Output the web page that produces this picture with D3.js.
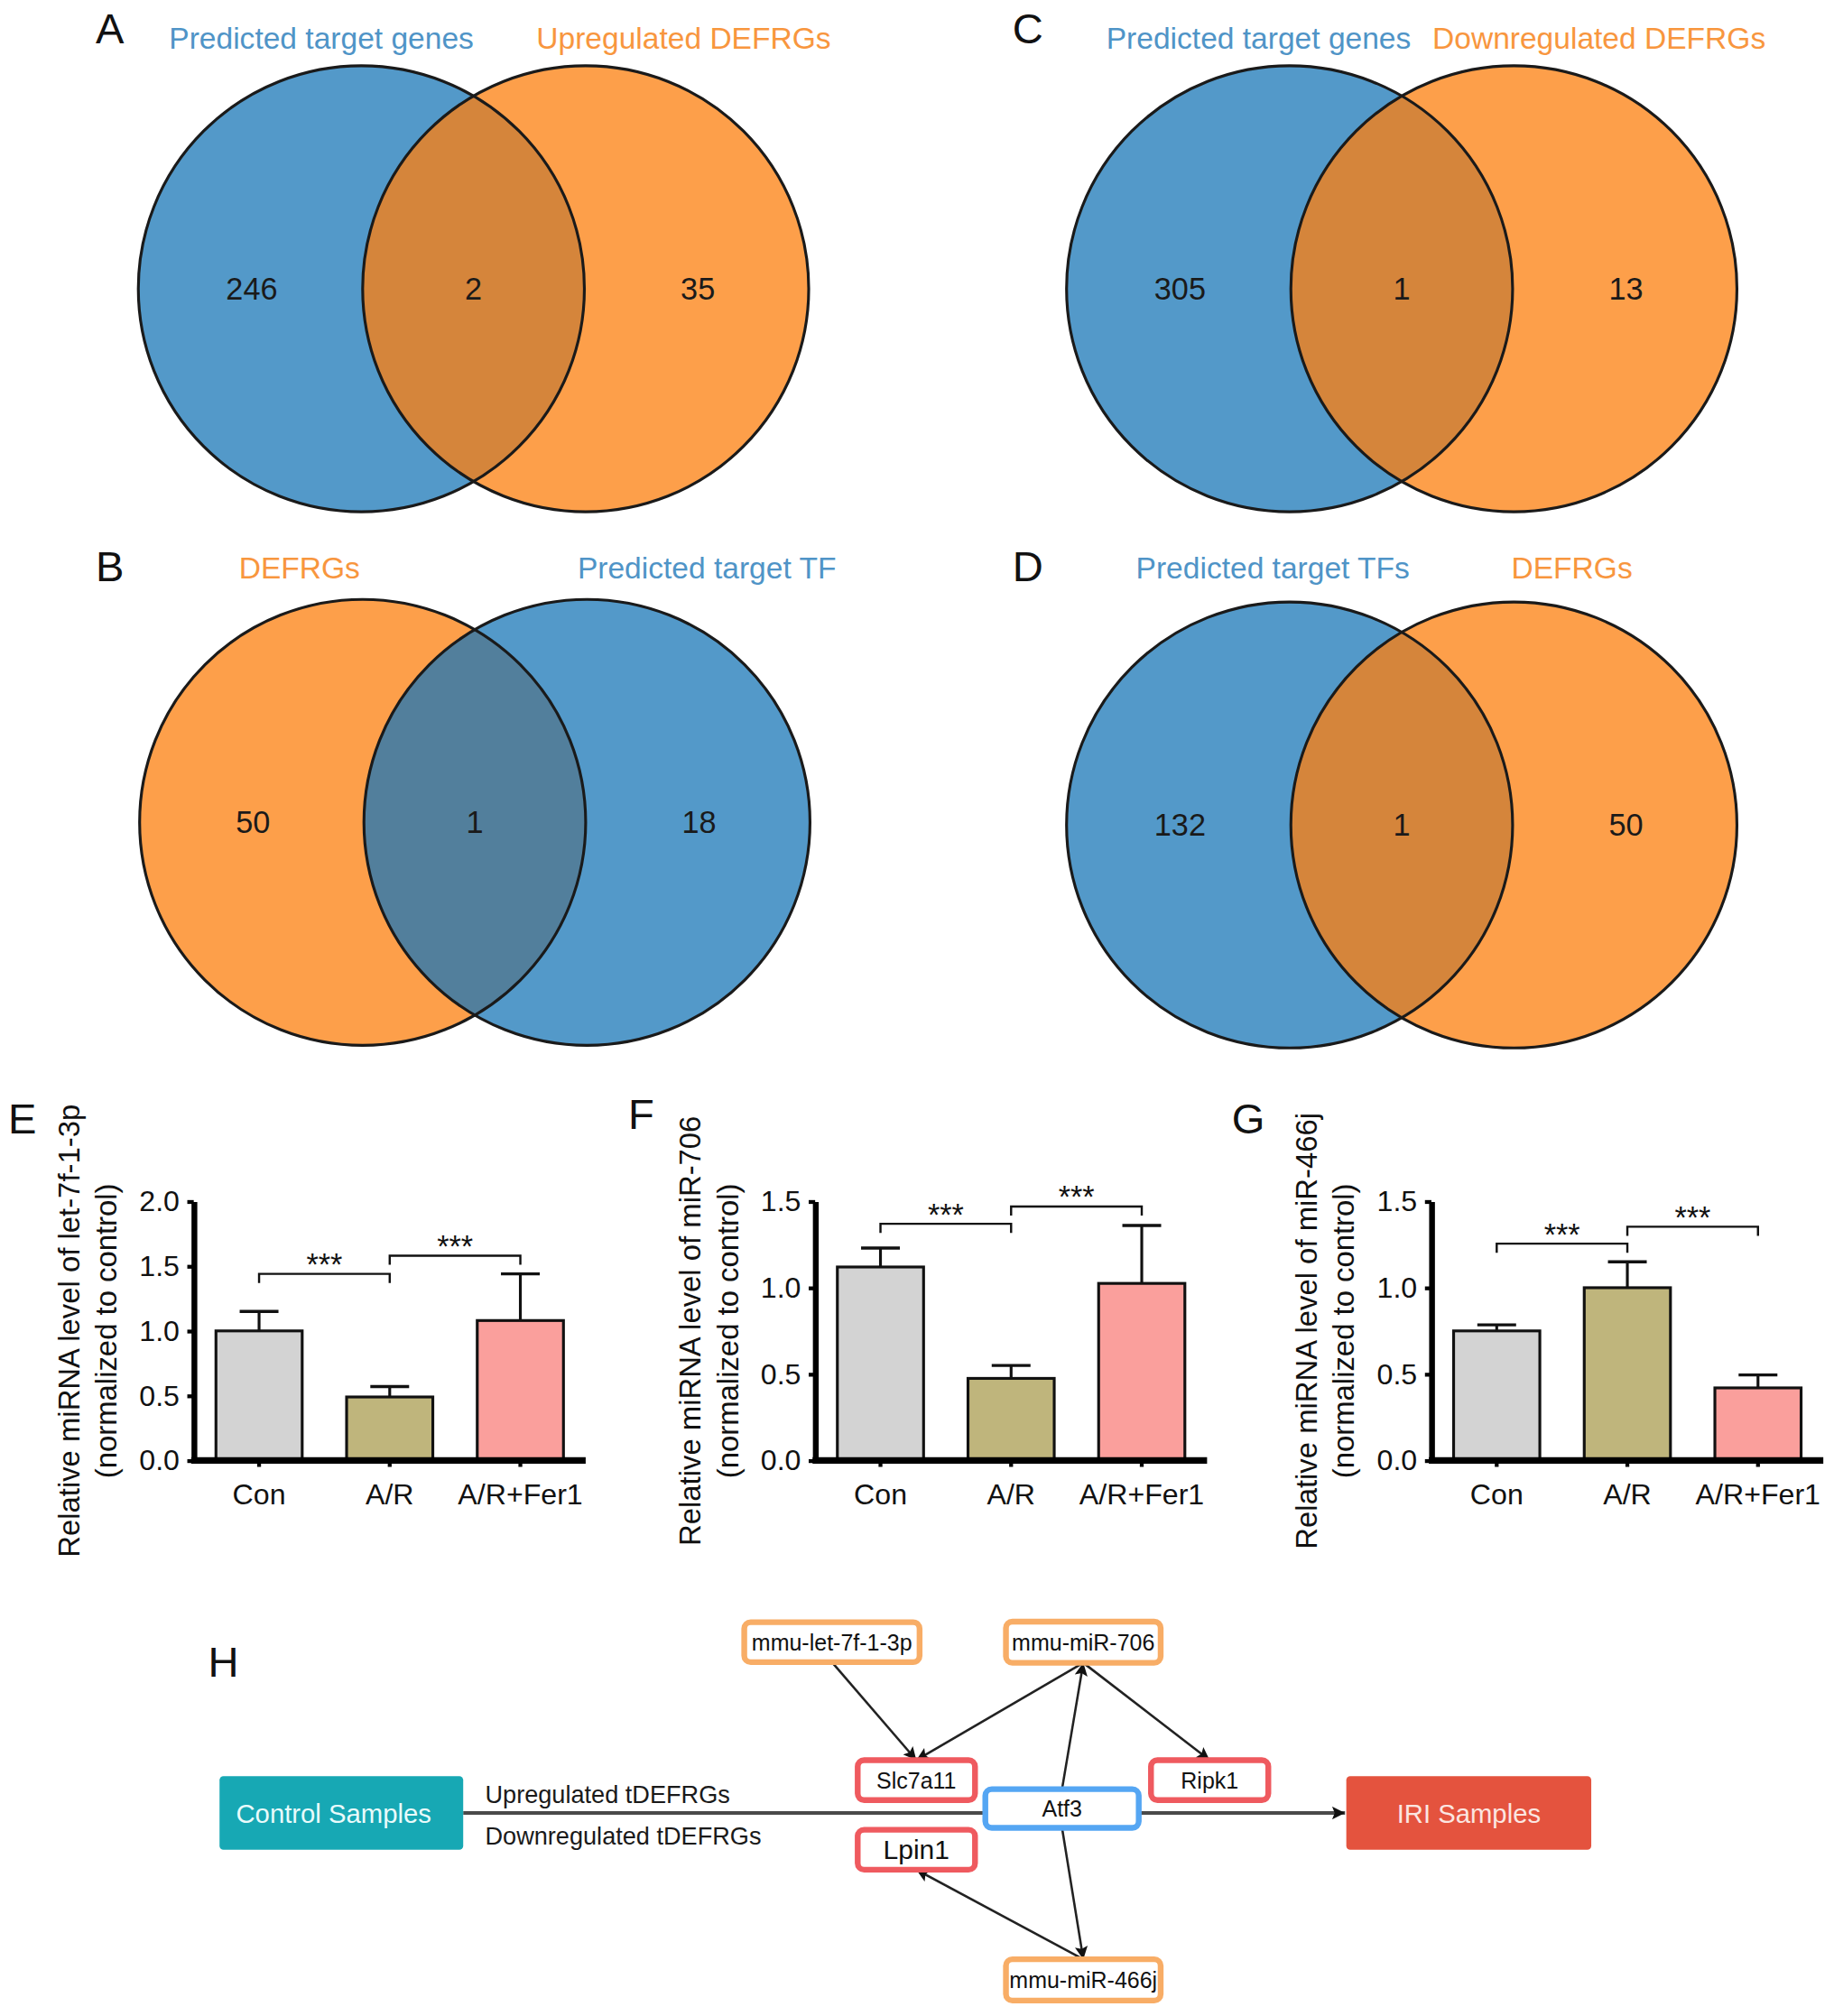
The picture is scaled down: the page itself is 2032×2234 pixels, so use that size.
<!DOCTYPE html>
<html>
<head>
<meta charset="utf-8">
<script src="https://cdn.jsdelivr.net/npm/d3@7"></script>
<style>
  body { margin: 0; background: #fff; }
  svg { display: block; font-family: "Liberation Sans", Arial, Helvetica, sans-serif; }
</style>
</head>
<body>
<div id="figure"></div>
<script>
'use strict';

// venn panels A-D
var vennLetters = ['A', 'B', 'C', 'D'];
var vennLeftSets = ['Predicted target genes', 'DEFRGs', 'Predicted target genes', 'Predicted target TFs'];
var vennRightSets = ['Upregulated DEFRGs', 'Predicted target TF', 'Downregulated DEFRGs', 'DEFRGs'];
var vennLeftOnly = [246, 50, 305, 132];
var vennShared = [2, 1, 1, 1];
var vennRightOnly = [35, 18, 13, 50];
var vennLeftKind = ['blue', 'orange', 'blue', 'blue'];
var vennRightKind = ['orange', 'blue', 'orange', 'orange'];

// qPCR panels E-G
var groups = ['Con', 'A/R', 'A/R+Fer1'];
var barLetters = ['E', 'F', 'G'];
var barTitles = ['Relative miRNA level of let-7f-1-3p', 'Relative miRNA level of miR-706', 'Relative miRNA level of miR-466j'];
var barSubtitle = '(normalized to control)';
var let7Mean = [1.00, 0.49, 1.08];
var let7Sem = [0.15, 0.08, 0.36];
var mir706Mean = [1.12, 0.475, 1.025];
var mir706Sem = [0.11, 0.075, 0.335];
var mir466jMean = [0.75, 1.00, 0.42];
var mir466jSem = [0.035, 0.15, 0.075];
var yMaxes = [2.0, 1.5, 1.5];
var bracketHeights = [[1.44, 1.58], [1.37, 1.47], [1.255, 1.353]];
var sigLabel = '***';

// network H
var netNodes = ['mmu-let-7f-1-3p', 'mmu-miR-706', 'Slc7a11', 'Ripk1', 'Atf3', 'Lpin1', 'mmu-miR-466j'];
var netKinds = ['mirna', 'mirna', 'gene', 'gene', 'tf', 'gene', 'mirna'];
var netEdges = [
  ['mmu-let-7f-1-3p', 'Slc7a11'],
  ['mmu-miR-706', 'Slc7a11'],
  ['mmu-miR-706', 'Ripk1'],
  ['Atf3', 'mmu-miR-706'],
  ['Atf3', 'mmu-miR-466j'],
  ['mmu-miR-466j', 'Lpin1']
];
var flowEnds = ['Control Samples', 'IRI Samples'];
var flowLabels = ['Upregulated tDEFRGs', 'Downregulated tDEFRGs'];

var W = 1422, H = 1564;

var svg = d3.select('#figure').append('svg')
    .attr('width', 2032)
    .attr('height', 2234)
    .attr('viewBox', '0 0 ' + W + ' ' + H);

var fills = {blue: '#5399c9', orange: '#fd9f4a'};
var textFills = {blue: '#4f94c7', orange: '#f8963e'};
var overlap = {blue: '#527f9c', orange: '#d5853b'};   // keyed by the circle drawn on top

var panelLetter = function(x, y, t){
  svg.append('text')
      .attr('x', x)
      .attr('y', y)
      .attr('text-anchor', 'middle')
      .attr('dominant-baseline', 'central')
      .style('font-size', '33px')
      .style('fill', '#111')
      .text(t);
};

// ---------- venn ----------
var vennCx = [280, 281, 1000, 1000];
var vennCy = [224, 638, 224, 640];
var vennR = 173, vennD = 174;
var vennTitleX = [[249, 530], [232, 548], [976, 1240], [987, 1219]];
var vennTitleY = [30, 441, 30, 441];
var vennLetterPos = [[85, 22], [85, 439], [797, 22], [797, 439]];

vennLetters.forEach(function(letter, i){
  var g = svg.append('g');
  var lx = vennCx[i], rx = vennCx[i] + vennD, cy = vennCy[i];

  g.append('clipPath')
      .attr('id', 'clipL' + i)
    .append('circle')
      .attr('cx', lx).attr('cy', cy).attr('r', vennR);

  g.append('circle')
      .attr('cx', lx).attr('cy', cy).attr('r', vennR)
      .style('fill', fills[vennLeftKind[i]]);
  g.append('circle')
      .attr('cx', rx).attr('cy', cy).attr('r', vennR)
      .style('fill', fills[vennRightKind[i]]);
  g.append('circle')
      .attr('cx', rx).attr('cy', cy).attr('r', vennR)
      .attr('clip-path', 'url(#clipL' + i + ')')
      .style('fill', overlap[vennRightKind[i]]);

  g.selectAll('circle.outline')
      .data([lx, rx])
    .enter().append('circle')
      .attr('class', 'outline')
      .attr('cx', function(d){ return d; })
      .attr('cy', cy)
      .attr('r', vennR)
      .style('fill', 'none')
      .style('stroke', '#1a1a1a')
      .style('stroke-width', 2.2);

  var counts = [vennLeftOnly[i], vennShared[i], vennRightOnly[i]];
  var countX = [lx - 85, lx + vennD / 2, rx + 87];
  g.selectAll('text.count')
      .data(counts)
    .enter().append('text')
      .attr('class', 'count')
      .attr('x', function(d, j){ return countX[j]; })
      .attr('y', cy)
      .attr('text-anchor', 'middle')
      .attr('dominant-baseline', 'central')
      .style('font-size', '24px')
      .style('fill', '#1a1a1a')
      .text(function(d){ return d; });

  var titles = [vennLeftSets[i], vennRightSets[i]];
  var kinds = [vennLeftKind[i], vennRightKind[i]];
  g.selectAll('text.title')
      .data(titles)
    .enter().append('text')
      .attr('class', 'title')
      .attr('x', function(d, j){ return vennTitleX[i][j]; })
      .attr('y', vennTitleY[i])
      .attr('text-anchor', 'middle')
      .attr('dominant-baseline', 'central')
      .style('font-size', '23.5px')
      .style('fill', function(d, j){ return textFills[kinds[j]]; })
      .text(function(d){ return d; });

  panelLetter(vennLetterPos[i][0], vennLetterPos[i][1], letter);
});

// ---------- bar charts ----------
var barMeans = [let7Mean, mir706Mean, mir466jMean];
var barSems = [let7Sem, mir706Sem, mir466jSem];
var barColors = ['#d3d3d3', '#bfb57c', '#fa9f9c'];
var barAxisX = [150, 632, 1110];
var barLetterPos = [[17, 868], [497, 864], [968, 868]];
var plotTop = 932, plotBottom = 1133, plotWidth = 304;

barLetters.forEach(function(letter, k){
  var x0 = barAxisX[k];
  var g = svg.append('g');

  var x = d3.scaleBand()
      .domain(groups)
      .range([x0, x0 + plotWidth])
      .paddingInner(0.34)
      .paddingOuter(0.17);

  var y = d3.scaleLinear()
      .domain([0, yMaxes[k]])
      .range([plotBottom, plotTop]);

  var rows = groups.map(function(name, j){
    return {name: name, mean: barMeans[k][j], sem: barSems[k][j], color: barColors[j]};
  });

  // error bars (upper only)
  var capW = x.bandwidth() * 0.45;
  g.selectAll('line.err')
      .data(rows)
    .enter().append('line')
      .attr('class', 'err')
      .attr('x1', function(d){ return x(d.name) + x.bandwidth() / 2; })
      .attr('x2', function(d){ return x(d.name) + x.bandwidth() / 2; })
      .attr('y1', function(d){ return y(d.mean); })
      .attr('y2', function(d){ return y(d.mean + d.sem); })
      .style('stroke', '#111')
      .style('stroke-width', 2.2);
  g.selectAll('line.cap')
      .data(rows)
    .enter().append('line')
      .attr('class', 'cap')
      .attr('x1', function(d){ return x(d.name) + x.bandwidth() / 2 - capW / 2; })
      .attr('x2', function(d){ return x(d.name) + x.bandwidth() / 2 + capW / 2; })
      .attr('y1', function(d){ return y(d.mean + d.sem); })
      .attr('y2', function(d){ return y(d.mean + d.sem); })
      .style('stroke', '#111')
      .style('stroke-width', 2.4);

  g.selectAll('rect.bar')
      .data(rows)
    .enter().append('rect')
      .attr('class', 'bar')
      .attr('x', function(d){ return x(d.name); })
      .attr('y', function(d){ return y(d.mean); })
      .attr('width', x.bandwidth())
      .attr('height', function(d){ return y(0) - y(d.mean); })
      .style('fill', function(d){ return d.color; })
      .style('stroke', '#111')
      .style('stroke-width', 2.2);

  // y axis
  var yAxis = g.append('g')
      .attr('transform', 'translate(' + x0 + ',0)')
      .call(d3.axisLeft(y).tickValues(d3.range(0, yMaxes[k] + 0.01, 0.5))
        .tickFormat(d3.format('.1f')).tickSize(5).tickSizeOuter(0).tickPadding(6));
  yAxis.select('.domain').style('stroke', '#000').style('stroke-width', 4.5);
  yAxis.selectAll('.tick line').style('stroke', '#000').style('stroke-width', 3);
  yAxis.selectAll('.tick text')
      .style('font-size', '22.5px')
      .style('font-family', '"Liberation Sans", Arial, sans-serif')
      .style('fill', '#111');

  // x axis
  var xAxis = g.append('g')
      .attr('transform', 'translate(0,' + plotBottom + ')')
      .call(d3.axisBottom(x).tickSize(5).tickSizeOuter(0).tickPadding(13));
  xAxis.select('.domain').attr('d', 'M' + (x0 - 2) + ',0H' + (x0 + plotWidth))
      .style('stroke', '#000').style('stroke-width', 5);
  xAxis.selectAll('.tick line').style('stroke', '#000').style('stroke-width', 3);
  xAxis.selectAll('.tick text')
      .style('font-size', '22.5px')
      .style('font-family', '"Liberation Sans", Arial, sans-serif')
      .style('fill', '#111');

  // significance brackets
  var pairs = [[0, 1], [1, 2]];
  pairs.forEach(function(p, b){
    var xa = x(groups[p[0]]) + x.bandwidth() / 2;
    var xb = x(groups[p[1]]) + x.bandwidth() / 2;
    var yb = y(bracketHeights[k][b]);
    g.append('path')
        .attr('d', 'M' + xa + ',' + (yb + 7) + 'V' + yb + 'H' + xb + 'V' + (yb + 7))
        .style('fill', 'none')
        .style('stroke', '#111')
        .style('stroke-width', 1.7);
    g.append('text')
        .attr('x', (xa + xb) / 2)
        .attr('y', yb + 1)
        .attr('text-anchor', 'middle')
        .style('font-size', '24px')
        .style('fill', '#111')
        .text(sigLabel);
  });

  // y title
  var midY = (plotTop + plotBottom) / 2;
  g.selectAll('text.ytitle')
      .data([barTitles[k], barSubtitle])
    .enter().append('text')
      .attr('class', 'ytitle')
      .attr('transform', function(d, j){
        return 'translate(' + (x0 + (j === 0 ? -97 : -68)) + ',' + midY + ') rotate(-90)';
      })
      .attr('text-anchor', 'middle')
      .attr('dominant-baseline', 'central')
      .style('font-size', '23px')
      .style('fill', '#111')
      .text(function(d){ return d; });

  panelLetter(barLetterPos[k][0], barLetterPos[k][1], letter);
});

// ---------- network H ----------
var nodeBoxes = {
  'mmu-let-7f-1-3p': [645, 1274, 136, 31],
  'mmu-miR-706': [840, 1274, 120, 32],
  'Slc7a11': [710.5, 1381, 91, 31],
  'Ripk1': [938, 1381, 91, 31],
  'Atf3': [823.5, 1403, 119, 30],
  'Lpin1': [710.5, 1435, 91, 31],
  'mmu-miR-466j': [840, 1536, 120, 32]
};
var nodeStroke = {mirna: '#f8ad66', gene: '#ef5a5f', tf: '#55a6f3'};
var nodeFont = {'Lpin1': 21};
var flowBoxes = [[170, 1378, 189, 57], [1044, 1378, 190, 57]];
var flowFill = ['#17a8b4', '#e4533e'];
var flowText = ['#e9fbfb', '#fbe6e1'];
var flowTextShift = [-6, 0];

var defs = svg.append('defs');
defs.append('marker')
    .attr('id', 'arrow')
    .attr('viewBox', '0 0 10 10')
    .attr('refX', 10)
    .attr('refY', 5)
    .attr('markerWidth', 12)
    .attr('markerHeight', 10)
    .attr('markerUnits', 'userSpaceOnUse')
    .attr('orient', 'auto')
  .append('path')
    .attr('d', 'M0,0L10,5L0,10L2,5Z')
    .style('fill', '#111');

var net = svg.append('g');

panelLetter(173, 1289, 'H');

// main flow line
var flowY = flowBoxes[0][1] + flowBoxes[0][3] / 2;
net.append('line')
    .attr('x1', flowBoxes[0][0] + flowBoxes[0][2])
    .attr('x2', flowBoxes[1][0] - 1)
    .attr('y1', flowY)
    .attr('y2', flowY)
    .attr('marker-end', 'url(#arrow)')
    .style('stroke', '#4a4a4a')
    .style('stroke-width', 2.8);

net.selectAll('text.flowlabel')
    .data(flowLabels)
  .enter().append('text')
    .attr('class', 'flowlabel')
    .attr('x', 376)
    .attr('y', function(d, i){ return i === 0 ? 1399 : 1431; })
    .style('font-size', '19px')
    .style('fill', '#1a1a1a')
    .text(function(d){ return d; });

net.selectAll('rect.flow')
    .data(flowEnds)
  .enter().append('rect')
    .attr('class', 'flow')
    .attr('x', function(d, i){ return flowBoxes[i][0]; })
    .attr('y', function(d, i){ return flowBoxes[i][1]; })
    .attr('width', function(d, i){ return flowBoxes[i][2]; })
    .attr('height', function(d, i){ return flowBoxes[i][3]; })
    .attr('rx', 3)
    .style('fill', function(d, i){ return flowFill[i]; });
net.selectAll('text.flow')
    .data(flowEnds)
  .enter().append('text')
    .attr('class', 'flow')
    .attr('x', function(d, i){ return flowBoxes[i][0] + flowBoxes[i][2] / 2 + flowTextShift[i]; })
    .attr('y', function(d, i){ return flowBoxes[i][1] + flowBoxes[i][3] / 2; })
    .attr('text-anchor', 'middle')
    .attr('dominant-baseline', 'central')
    .style('font-size', '20.5px')
    .style('fill', function(d, i){ return flowText[i]; })
    .text(function(d){ return d; });

// edges: leave source from top/bottom edge, reach target top/bottom edge
var anchor = function(name, other){
  var b = nodeBoxes[name], o = nodeBoxes[other];
  return [b[0], o[1] > b[1] ? b[1] + b[3] / 2 : b[1] - b[3] / 2];
};
net.selectAll('line.edge')
    .data(netEdges)
  .enter().append('line')
    .attr('class', 'edge')
    .attr('x1', function(d){ return anchor(d[0], d[1])[0]; })
    .attr('y1', function(d){ return anchor(d[0], d[1])[1]; })
    .attr('x2', function(d){ return anchor(d[1], d[0])[0]; })
    .attr('y2', function(d){ return anchor(d[1], d[0])[1]; })
    .attr('marker-end', 'url(#arrow)')
    .style('stroke', '#222')
    .style('stroke-width', 1.8);

var nodeG = net.selectAll('g.node')
    .data(netNodes)
  .enter().append('g')
    .attr('class', 'node');
nodeG.append('rect')
    .attr('x', function(d){ return nodeBoxes[d][0] - nodeBoxes[d][2] / 2; })
    .attr('y', function(d){ return nodeBoxes[d][1] - nodeBoxes[d][3] / 2; })
    .attr('width', function(d){ return nodeBoxes[d][2]; })
    .attr('height', function(d){ return nodeBoxes[d][3]; })
    .attr('rx', 5)
    .style('fill', '#fff')
    .style('stroke', function(d, i){ return nodeStroke[netKinds[i]]; })
    .style('stroke-width', 4.5);
nodeG.append('text')
    .attr('x', function(d){ return nodeBoxes[d][0]; })
    .attr('y', function(d){ return nodeBoxes[d][1]; })
    .attr('text-anchor', 'middle')
    .attr('dominant-baseline', 'central')
    .style('font-size', function(d){ return (nodeFont[d] || 17.5) + 'px'; })
    .style('fill', '#111')
    .text(function(d){ return d; });
</script>
</body>
</html>
